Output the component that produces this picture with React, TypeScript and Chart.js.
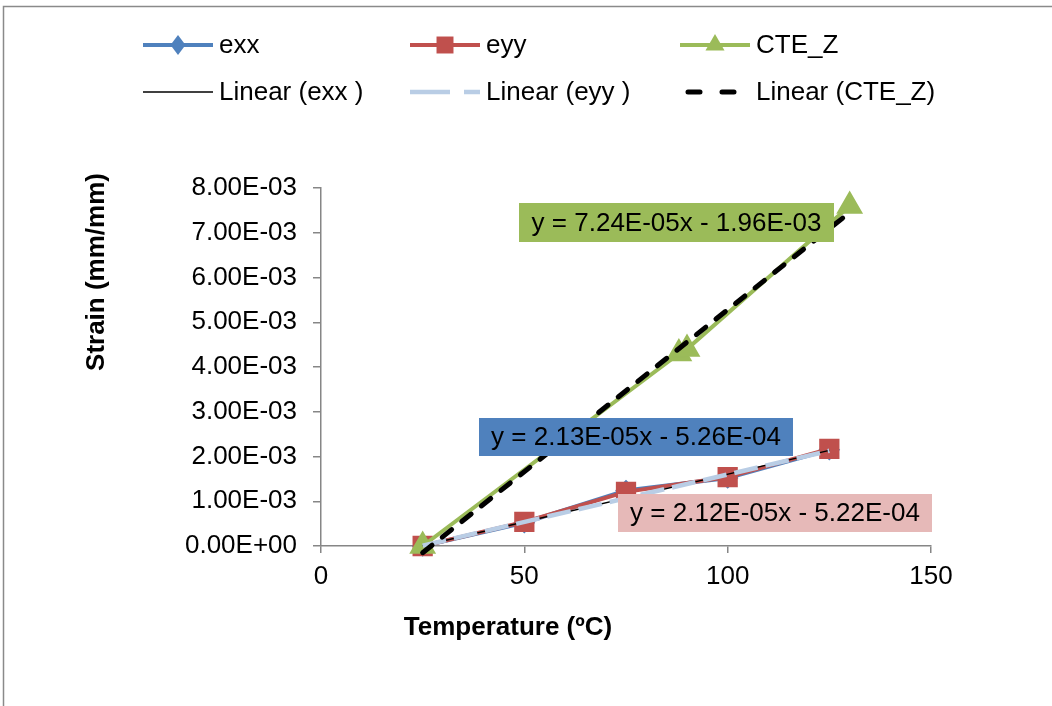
import React, { useEffect, useRef } from "react";
import { Chart, registerables } from "chart.js";

Chart.register(...registerables);

// ---- data ----
const temperatures = [25, 50, 75, 100, 125];
const exxValues = [0, 0.00052, 0.00124, 0.00152, 0.00215];
const eyyValues = [0, 0.00054, 0.00121, 0.00154, 0.00217];
const cteTemps = [25, 88, 90, 130];
const cteValues = [0, 0.0043, 0.0044, 0.0076];

const trendExxX = [25, 125];
const trendExxY = [0.0000065, 0.0021365];
const trendEyyX = [25, 125];
const trendEyyY = [0.000008, 0.002128];
const trendCteX = [25, 130];
const trendCteY = [-0.00015, 0.007452];

const seriesLabels = ["exx", "eyy", "CTE_Z", "Linear (exx )", "Linear (eyy )", "Linear (CTE_Z)"];
const equations = ["y = 7.24E-05x - 1.96E-03", "y = 2.13E-05x - 5.26E-04", "y = 2.12E-05x - 5.22E-04"];
const xTitle = "Temperature (ºC)";
const yTitle = "Strain (mm/mm)";
const xMin = 0, xMax = 150, xStep = 50;
const yMin = 0, yMax = 0.008, yStep = 0.001;

const FONT = "'Liberation Sans', Arial, sans-serif";
const FS = 26;

const pts = (xs: number[], ys: number[]) => xs.map((x, i) => ({ x, y: ys[i] }));

function sci(v: number): string {
  if (Math.abs(v) < 1e-12) return "0.00E+00";
  const [m, e] = v.toExponential(2).split("e");
  const n = parseInt(e, 10);
  return m + "E" + (n < 0 ? "-" : "+") + String(Math.abs(n)).padStart(2, "0");
}

function drawMarker(ctx: CanvasRenderingContext2D, style: string, x: number, y: number, r: number) {
  ctx.beginPath();
  if (style === "rect") {
    const s = r * Math.SQRT1_2;
    ctx.rect(x - s, y - s, 2 * s, 2 * s);
  } else if (style === "rectRot") {
    ctx.moveTo(x, y - r);
    ctx.lineTo(x + r * 0.75, y);
    ctx.lineTo(x, y + r);
    ctx.lineTo(x - r * 0.75, y);
    ctx.closePath();
  } else if (style === "triangle") {
    ctx.moveTo(x, y - r);
    ctx.lineTo(x + r * 0.866, y + r * 0.5);
    ctx.lineTo(x - r * 0.866, y + r * 0.5);
    ctx.closePath();
  }
  ctx.fill();
}

const decorPlugin = {
  id: "decor",
  beforeDraw(chart: any) {
    const ctx = chart.ctx;
    ctx.save();
    ctx.fillStyle = "#ffffff";
    ctx.fillRect(0, 0, chart.width, chart.height);
    ctx.strokeStyle = "#8a8a8a";
    ctx.lineWidth = 1.5;
    ctx.beginPath();
    ctx.moveTo(3.5, chart.height);
    ctx.lineTo(3.5, 6.5);
    ctx.lineTo(chart.width, 6.5);
    ctx.stroke();
    ctx.restore();
  },
  afterDatasetsDraw(chart: any) {
    const ctx = chart.ctx;
    const boxes = [
      { x: 519, y: 203, w: 315, h: 39, fill: "#9BBB59" },
      { x: 479, y: 418, w: 314, h: 38, fill: "#4F81BD" },
      { x: 618, y: 494, w: 314, h: 38, fill: "#E6B9B8" },
    ];
    ctx.save();
    ctx.font = `${FS}px ${FONT}`;
    ctx.textAlign = "center";
    ctx.textBaseline = "middle";
    boxes.forEach((b, i) => {
      ctx.fillStyle = b.fill;
      ctx.fillRect(b.x, b.y, b.w, b.h);
      ctx.fillStyle = "#000000";
      ctx.fillText(equations[i], b.x + b.w / 2, b.y + b.h / 2 + 1);
    });
    ctx.restore();
  },
  afterDraw(chart: any) {
    const ctx = chart.ctx;
    ctx.save();
    ctx.fillStyle = "#000000";
    ctx.font = `bold ${FS}px ${FONT}`;
    ctx.textAlign = "center";
    ctx.textBaseline = "middle";
    ctx.fillText(xTitle, 508, 628);
    ctx.save();
    ctx.translate(97, 272);
    ctx.rotate(-Math.PI / 2);
    ctx.fillText(yTitle, 0, 0);
    ctx.restore();

    // legend
    const cols = [143, 410, 680];
    const rows = [45, 92];
    const len = 70;
    ctx.font = `${FS}px ${FONT}`;
    ctx.textAlign = "left";
    chart.data.datasets.forEach((ds: any, i: number) => {
      const x0 = cols[i % 3];
      const y0 = rows[Math.floor(i / 3)];
      ctx.save();
      ctx.strokeStyle = ds.borderColor;
      ctx.lineWidth = ds.borderWidth;
      ctx.setLineDash(ds.legendDash || []);
      ctx.lineCap = ds.borderCapStyle || "butt";
      ctx.beginPath();
      if (ds.legendDash && ds.borderCapStyle === "round") {
        ctx.moveTo(x0 + 8, y0);
        ctx.lineTo(x0 + len - 4, y0);
      } else {
        ctx.moveTo(x0, y0);
        ctx.lineTo(x0 + len, y0);
      }
      ctx.stroke();
      ctx.restore();
      if (ds.pointRadius > 0) {
        ctx.save();
        ctx.fillStyle = ds.pointBackgroundColor;
        drawMarker(ctx, ds.pointStyle, x0 + len / 2, y0, ds.legendRadius);
        ctx.restore();
      }
      ctx.fillStyle = "#000000";
      ctx.fillText(ds.label, x0 + len + 6, y0 + 1);
    });
    ctx.restore();
  },
};

export default function App() {
  const ref = useRef<HTMLCanvasElement | null>(null);

  useEffect(() => {
    if (!ref.current) return;
    const axisGray = "#868686";
    const chart = new Chart(ref.current, {
      type: "line",
      data: {
        datasets: [
          {
            label: seriesLabels[0],
            data: pts(temperatures, exxValues),
            borderColor: "#4F81BD",
            backgroundColor: "#4F81BD",
            borderWidth: 4,
            pointStyle: "rectRot",
            pointRadius: 8,
            pointBackgroundColor: "#4F81BD",
            pointBorderColor: "#4F81BD",
            legendRadius: 10,
            order: 6,
            clip: false,
          } as any,
          {
            label: seriesLabels[1],
            data: pts(temperatures, eyyValues),
            borderColor: "#C0504D",
            backgroundColor: "#C0504D",
            borderWidth: 4,
            pointStyle: "rect",
            pointRadius: 11.5,
            pointBackgroundColor: "#C0504D",
            pointBorderColor: "#C0504D",
            legendRadius: 12,
            order: 5,
            clip: false,
          } as any,
          {
            label: seriesLabels[2],
            data: pts(cteTemps, cteValues),
            borderColor: "#9BBB59",
            backgroundColor: "#9BBB59",
            borderWidth: 4,
            pointStyle: "triangle",
            pointRadius: 11.5,
            pointBackgroundColor: "#9BBB59",
            pointBorderColor: "#9BBB59",
            legendRadius: 11,
            order: 4,
            clip: false,
          } as any,
          {
            label: seriesLabels[3],
            data: pts(trendExxX, trendExxY),
            borderColor: "#000000",
            borderWidth: 1.5,
            pointRadius: 0,
            order: 3,
            clip: false,
          } as any,
          {
            label: seriesLabels[4],
            data: pts(trendEyyX, trendEyyY),
            borderColor: "#B9CDE5",
            borderWidth: 4.5,
            borderDash: [24, 8],
            legendDash: [40, 14],
            pointRadius: 0,
            order: 2,
            clip: false,
          } as any,
          {
            label: seriesLabels[5],
            data: pts(trendCteX, trendCteY),
            borderColor: "#000000",
            borderWidth: 5,
            borderDash: [12, 13],
            legendDash: [12, 22],
            borderCapStyle: "round",
            pointRadius: 0,
            order: 1,
            clip: false,
          } as any,
        ],
      },
      options: {
        responsive: false,
        animation: false,
        layout: { padding: { top: 188, right: 121, left: 0, bottom: 0 } },
        plugins: {
          legend: { display: false },
          tooltip: { enabled: false },
        },
        elements: { line: { tension: 0, fill: false } },
        scales: {
          x: {
            type: "linear",
            min: xMin,
            max: xMax,
            ticks: { stepSize: xStep, color: "#000000", padding: 8, font: { family: FONT, size: FS } },
            grid: { drawOnChartArea: false, tickLength: 7, color: axisGray, lineWidth: 1.5 },
            border: { color: axisGray, width: 1.5 },
            afterFit: (s: any) => { s.height = 160; },
          },
          y: {
            type: "linear",
            min: yMin,
            max: yMax,
            ticks: {
              stepSize: yStep,
              color: "#000000",
              padding: 16,
              font: { family: FONT, size: FS },
              callback: (v: any) => sci(Number(v)),
            },
            grid: { drawOnChartArea: false, tickLength: 8, color: axisGray, lineWidth: 1.5 },
            border: { color: axisGray, width: 1.5 },
            afterFit: (s: any) => { s.width = 321; },
          },
        },
      } as any,
      plugins: [decorPlugin],
    });
    return () => chart.destroy();
  }, []);

  return (
    <div style={{ position: "absolute", left: 0, top: 0, width: 1052, height: 706, background: "#fff" }}>
      <canvas ref={ref} width={1052} height={706} style={{ display: "block" }} />
    </div>
  );
}
